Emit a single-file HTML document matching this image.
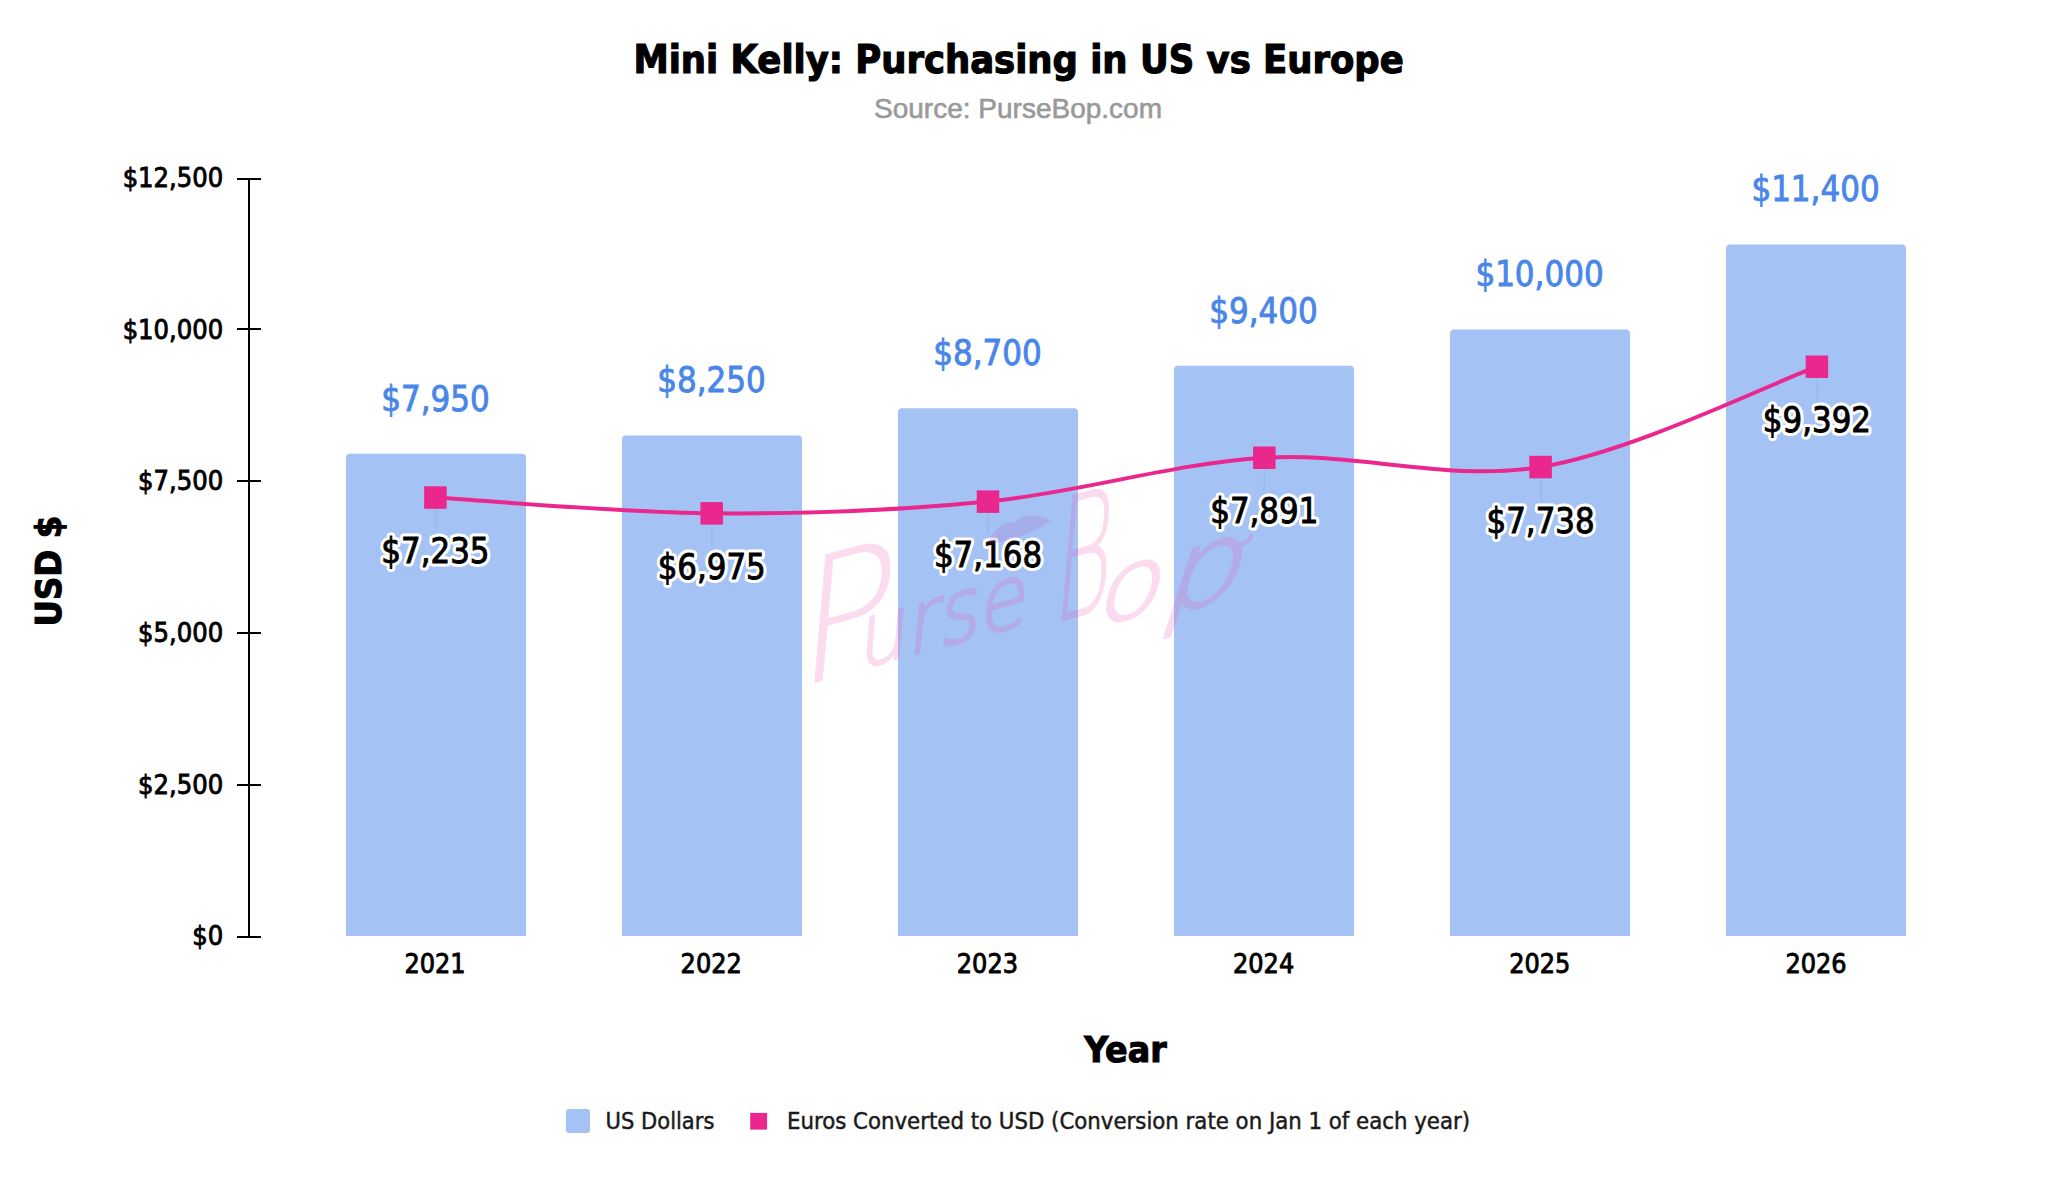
<!DOCTYPE html>
<html lang="en"><head><meta charset="utf-8"><title>Mini Kelly: Purchasing in US vs Europe</title>
<style>html,body{margin:0;padding:0;background:#fff}body{width:2050px;height:1184px;overflow:hidden}svg{display:block}
text{font-family:"DejaVu Sans Condensed","DejaVu Sans","Liberation Sans",sans-serif;font-stretch:condensed}.ar{font-family:"Liberation Sans","DejaVu Sans",sans-serif;font-stretch:normal}.b{font-weight:bold}.wm{font-family:"DejaVu Sans Light","DejaVu Sans",sans-serif;font-weight:200;font-stretch:normal}</style></head><body>
<svg width="2050" height="1184" viewBox="0 0 2050 1184">
<rect width="2050" height="1184" fill="#fff"/>
<text class="b" transform="translate(1018.6 72.7) scale(1.0218 1)" font-size="38.56" text-anchor="middle" fill="#000" stroke="#000" stroke-width="1.1">Mini Kelly: Purchasing in US vs Europe</text>
<text class="ar" transform="translate(1018 118.1)" font-size="28" text-anchor="middle" fill="#999" stroke="#999" stroke-width="0.6">Source: PurseBop.com</text>
<path d="M346 936 V457.753 Q346 453.753 350 453.753 H522 Q526 453.753 526 457.753 V936 Z" fill="#a4c2f4"/>
<path d="M622 936 V439.555 Q622 435.555 626 435.555 H798 Q802 435.555 802 439.555 V936 Z" fill="#a4c2f4"/>
<path d="M898 936 V412.258 Q898 408.258 902 408.258 H1074 Q1078 408.258 1078 412.258 V936 Z" fill="#a4c2f4"/>
<path d="M1174 936 V369.796 Q1174 365.796 1178 365.796 H1350 Q1354 365.796 1354 369.796 V936 Z" fill="#a4c2f4"/>
<path d="M1450 936 V333.4 Q1450 329.4 1454 329.4 H1626 Q1630 329.4 1630 333.4 V936 Z" fill="#a4c2f4"/>
<path d="M1726 936 V248.476 Q1726 244.476 1730 244.476 H1902 Q1906 244.476 1906 248.476 V936 Z" fill="#a4c2f4"/>
<!--WM-->
<path d="M249 178 V938" stroke="#000" stroke-width="2" fill="none"/>
<path d="M237 179 H261" stroke="#000" stroke-width="2" fill="none"/>
<text transform="translate(223.1 187.1) scale(1.001 1)" font-size="26.99" text-anchor="end" fill="#000" stroke="#000" stroke-width="0.84">$12,500</text>
<path d="M237 329 H261" stroke="#000" stroke-width="2" fill="none"/>
<text transform="translate(223.1 338.7) scale(1.001 1)" font-size="26.99" text-anchor="end" fill="#000" stroke="#000" stroke-width="0.84">$10,000</text>
<path d="M237 481 H261" stroke="#000" stroke-width="2" fill="none"/>
<text transform="translate(223.1 490.3) scale(1.001 1)" font-size="26.99" text-anchor="end" fill="#000" stroke="#000" stroke-width="0.84">$7,500</text>
<path d="M237 633 H261" stroke="#000" stroke-width="2" fill="none"/>
<text transform="translate(223.1 641.9) scale(1.001 1)" font-size="26.99" text-anchor="end" fill="#000" stroke="#000" stroke-width="0.84">$5,000</text>
<path d="M237 785 H261" stroke="#000" stroke-width="2" fill="none"/>
<text transform="translate(223.1 793.5) scale(1.001 1)" font-size="26.99" text-anchor="end" fill="#000" stroke="#000" stroke-width="0.84">$2,500</text>
<path d="M237 937 H261" stroke="#000" stroke-width="2" fill="none"/>
<text transform="translate(223.1 945.1) scale(1.001 1)" font-size="26.99" text-anchor="end" fill="#000" stroke="#000" stroke-width="0.84">$0</text>
<text transform="translate(435 973.1) scale(0.9907 1)" font-size="26.99" text-anchor="middle" fill="#000" stroke="#000" stroke-width="0.84">2021</text>
<text transform="translate(711.2 973.1) scale(0.9907 1)" font-size="26.99" text-anchor="middle" fill="#000" stroke="#000" stroke-width="0.84">2022</text>
<text transform="translate(987.4 973.1) scale(0.9907 1)" font-size="26.99" text-anchor="middle" fill="#000" stroke="#000" stroke-width="0.84">2023</text>
<text transform="translate(1263.6 973.1) scale(0.9907 1)" font-size="26.99" text-anchor="middle" fill="#000" stroke="#000" stroke-width="0.84">2024</text>
<text transform="translate(1539.8 973.1) scale(0.9907 1)" font-size="26.99" text-anchor="middle" fill="#000" stroke="#000" stroke-width="0.84">2025</text>
<text transform="translate(1816 973.1) scale(0.9907 1)" font-size="26.99" text-anchor="middle" fill="#000" stroke="#000" stroke-width="0.84">2026</text>
<text transform="translate(435.5 410.653) scale(0.9938 1)" font-size="34.7" text-anchor="middle" fill="#4a86e8" stroke="#4a86e8" stroke-width="0.85">$7,950</text>
<text transform="translate(711.5 392.455) scale(0.9938 1)" font-size="34.7" text-anchor="middle" fill="#4a86e8" stroke="#4a86e8" stroke-width="0.85">$8,250</text>
<text transform="translate(987.5 365.158) scale(0.9938 1)" font-size="34.7" text-anchor="middle" fill="#4a86e8" stroke="#4a86e8" stroke-width="0.85">$8,700</text>
<text transform="translate(1263.5 322.696) scale(0.9938 1)" font-size="34.7" text-anchor="middle" fill="#4a86e8" stroke="#4a86e8" stroke-width="0.85">$9,400</text>
<text transform="translate(1539.5 286.3) scale(0.9938 1)" font-size="34.7" text-anchor="middle" fill="#4a86e8" stroke="#4a86e8" stroke-width="0.85">$10,000</text>
<text transform="translate(1815.5 201.376) scale(0.9938 1)" font-size="34.7" text-anchor="middle" fill="#4a86e8" stroke="#4a86e8" stroke-width="0.85">$11,400</text>
<path d="M435.4 497.5 C481.4 500.2 619.6 512.6 711.7 513.3 C803.8 514.0 895.9 510.8 988 501.6 C1080.1 492.3 1172.2 463.5 1264.3 457.7 C1356.4 452.0 1448.5 482.2 1540.6 467.0 C1632.7 451.8 1770.9 383.4 1816.9 366.7" stroke="#ea278d" stroke-width="4" fill="none"/>
<path d="M435.6 508.5 V529.7" stroke="#000" stroke-opacity=".045" stroke-width="2" fill="none"/>
<rect x="424.15" y="486.3" width="22.5" height="22.5" fill="#ea278d"/>
<path d="M711.9 524.3 V545.5" stroke="#000" stroke-opacity=".045" stroke-width="2" fill="none"/>
<rect x="700.45" y="502.1" width="22.5" height="22.5" fill="#ea278d"/>
<path d="M988.2 512.6 V533.8" stroke="#000" stroke-opacity=".045" stroke-width="2" fill="none"/>
<rect x="976.75" y="490.4" width="22.5" height="22.5" fill="#ea278d"/>
<path d="M1264.5 468.7 V489.9" stroke="#000" stroke-opacity=".045" stroke-width="2" fill="none"/>
<rect x="1253.05" y="446.5" width="22.5" height="22.5" fill="#ea278d"/>
<path d="M1540.8 478.0 V499.2" stroke="#000" stroke-opacity=".045" stroke-width="2" fill="none"/>
<rect x="1529.35" y="455.8" width="22.5" height="22.5" fill="#ea278d"/>
<path d="M1817.1 377.7 V398.9" stroke="#000" stroke-opacity=".045" stroke-width="2" fill="none"/>
<rect x="1805.65" y="355.5" width="22.5" height="22.5" fill="#ea278d"/>
<text transform="translate(435.4 563.125) scale(0.9907 1)" font-size="34.7" text-anchor="middle" fill="#fff" stroke="#fff" stroke-width="7" stroke-linejoin="round">$7,235</text>
<text transform="translate(435.4 563.125) scale(0.9907 1)" font-size="34.7" text-anchor="middle" fill="#000" stroke="#000" stroke-width="0.9">$7,235</text>
<text transform="translate(711.7 578.897) scale(0.9907 1)" font-size="34.7" text-anchor="middle" fill="#fff" stroke="#fff" stroke-width="7" stroke-linejoin="round">$6,975</text>
<text transform="translate(711.7 578.897) scale(0.9907 1)" font-size="34.7" text-anchor="middle" fill="#000" stroke="#000" stroke-width="0.9">$6,975</text>
<text transform="translate(988 567.189) scale(0.9907 1)" font-size="34.7" text-anchor="middle" fill="#fff" stroke="#fff" stroke-width="7" stroke-linejoin="round">$7,168</text>
<text transform="translate(988 567.189) scale(0.9907 1)" font-size="34.7" text-anchor="middle" fill="#000" stroke="#000" stroke-width="0.9">$7,168</text>
<text transform="translate(1264.3 523.332) scale(0.9907 1)" font-size="34.7" text-anchor="middle" fill="#fff" stroke="#fff" stroke-width="7" stroke-linejoin="round">$7,891</text>
<text transform="translate(1264.3 523.332) scale(0.9907 1)" font-size="34.7" text-anchor="middle" fill="#000" stroke="#000" stroke-width="0.9">$7,891</text>
<text transform="translate(1540.6 532.613) scale(0.9907 1)" font-size="34.7" text-anchor="middle" fill="#fff" stroke="#fff" stroke-width="7" stroke-linejoin="round">$7,738</text>
<text transform="translate(1540.6 532.613) scale(0.9907 1)" font-size="34.7" text-anchor="middle" fill="#000" stroke="#000" stroke-width="0.9">$7,738</text>
<text transform="translate(1816.9 432.281) scale(0.9907 1)" font-size="34.7" text-anchor="middle" fill="#fff" stroke="#fff" stroke-width="7" stroke-linejoin="round">$9,392</text>
<text transform="translate(1816.9 432.281) scale(0.9907 1)" font-size="34.7" text-anchor="middle" fill="#000" stroke="#000" stroke-width="0.9">$9,392</text>
<text class="b" transform="translate(1125.5 1061.6) scale(1.0685 1)" font-size="34.7" text-anchor="middle" fill="#000" stroke="#000" stroke-width="1">Year</text>
<text class="b" transform="translate(61.4 571.1) rotate(-90) scale(1.0425 1)" font-size="34.7" text-anchor="middle" fill="#000" stroke="#000" stroke-width="1">USD $</text>
<rect x="566" y="1109" width="24" height="24" rx="3" fill="#a4c2f4"/>
<text transform="translate(605.6 1128.6) scale(1.0114 1)" font-size="23.14" text-anchor="start" fill="#1a1a1a" stroke="#1a1a1a" stroke-width="0.45">US Dollars</text>
<rect x="750.2" y="1112.9" width="16.9" height="16.7" fill="#ea278d"/>
<text transform="translate(787 1128.6) scale(1.0233 1)" font-size="23.14" text-anchor="start" fill="#1a1a1a" stroke="#1a1a1a" stroke-width="0.45">Euros Converted to USD (Conversion rate on Jan 1 of each year)</text>
<g aria-label="PurseBop" opacity=".21" fill="#e858ae" stroke="#e858ae" stroke-linejoin="round">
<text class="wm" transform="translate(795 688) rotate(-15) skewX(-20) scale(1 1)" font-size="166" stroke-width="0.6">P</text>
<text class="wm" transform="translate(858 669) rotate(-15) skewX(-20) scale(0.93 1)" font-size="86" stroke-width="2.5">urse</text>
<text class="wm" transform="translate(1051 624) rotate(-15) skewX(-20) scale(0.56 1)" font-size="163" stroke-width="0.8">B</text>
<text class="wm" transform="translate(1094 627) rotate(-15) skewX(-28) scale(1.22 1)" font-size="91" stroke-width="2.5">o</text>
<text class="wm" transform="translate(1158 617) rotate(-15) skewX(-33) scale(1.25 1)" font-size="104" stroke-width="2.5">p</text>
<path d="M1224 538 q6 8 16 7 q9 -2 11 -9" fill="none" stroke-width="4" stroke-linecap="round"/>
</g>
<path transform="translate(1018 529) rotate(-20)" d="M-34 3 C-22 -9 -9 -13 0 -7 C9 -13 22 -9 34 3 C20 9 -20 9 -34 3 Z" fill="#b05ac8" fill-opacity=".2"/>
</svg></body></html>
